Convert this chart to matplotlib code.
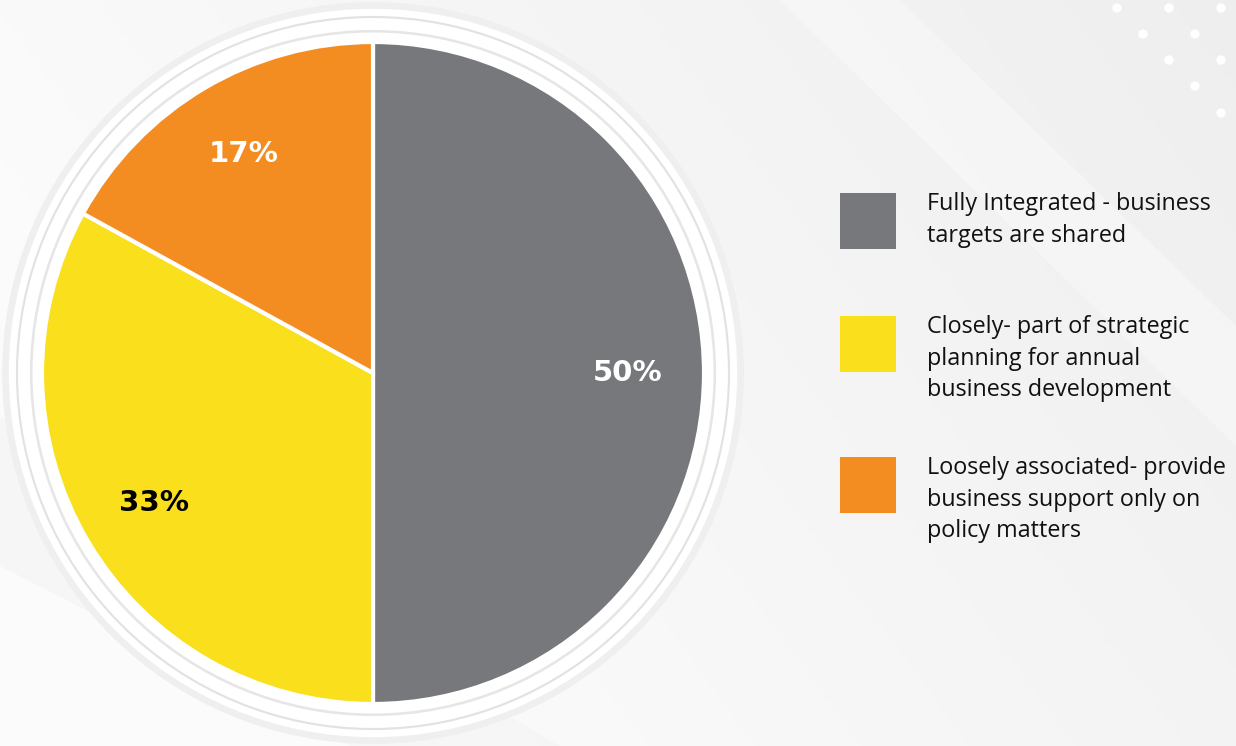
import numpy as np
import matplotlib.pyplot as plt
from matplotlib.patches import Circle, Rectangle, Polygon

categories = ['Fully Integrated - business\ntargets are shared',
              'Closely- part of strategic\nplanning for annual\nbusiness development',
              'Loosely associated- provide\nbusiness support only on\npolicy matters']
shares = [50, 33, 17]
colors = ['#77787c', '#f9df1c', '#f48d21']
label_colors = ['white', 'black', 'white']

W, H = 1236, 746
fig = plt.figure(figsize=(W / 100, H / 100), dpi=100)
ax = fig.add_axes([0, 0, 1, 1])

# soft grey background, lighter on the left
gx = np.linspace(0, 1, 300)
gy = np.linspace(0, 1, 200)
X, Y = np.meshgrid(gx, gy)
shade = 0.985 - 0.05 * np.clip(X * 0.9 + Y * 0.4 - 0.3, 0, 1)
ax.imshow(np.dstack([shade] * 3), extent=[0, W, 0, H], origin='lower',
          aspect='auto', zorder=0)
# faint diagonal bands
ax.add_patch(Polygon([[780, H], [900, H], [1236, 420], [1236, 300]],
                     closed=True, color='white', alpha=0.35, lw=0, zorder=0.5))
ax.add_patch(Polygon([[0, 330], [0, 180], [350, 0], [560, 0]],
                     closed=True, color='#f3f3f3', alpha=0.5, lw=0, zorder=0.5))

# dot pattern top right
for cx, cy in [(1117, 738), (1169, 738), (1221, 738), (1143, 712), (1195, 712),
               (1169, 686), (1221, 686), (1195, 660), (1221, 633)]:
    ax.add_patch(Circle((cx, cy), 4, color='white', zorder=1))

cx0, cy0, r = 373, 373, 331

# decorative rings around the pie
for rad, col, lw in [(366, '#efefef', 7), (360, '#ffffff', 6), (355, '#e2e2e2', 3),
                     (348, '#ffffff', 10), (341, '#e6e6e6', 3), (337, '#ffffff', 5)]:
    ax.add_patch(Circle((cx0, cy0), rad, fill=False, ec=col, lw=lw, zorder=2))
ax.add_patch(Circle((cx0, cy0), 336, color='white', zorder=2))

wedges, texts, autotexts = ax.pie(
    shares, colors=colors, startangle=90, counterclock=False,
    center=(cx0, cy0), radius=r, autopct=lambda p: f'{round(p)}%',
    pctdistance=0.77, wedgeprops=dict(edgecolor='white', linewidth=3),
    textprops=dict(fontsize=21, fontweight='bold', family='DejaVu Sans'),
    frame=True)
for w in wedges:
    w.set_zorder(3)
for t, c in zip(autotexts, label_colors):
    t.set_color(c)
    t.set_zorder(4)

# legend
lx, box = 840, 56
row_tops = [193, 316, 457]
for lab, col, top in zip(categories, colors, row_tops):
    ax.add_patch(Rectangle((lx, H - top - box), box, box, color=col, lw=0, zorder=3))
    ax.text(927, H - top + 1, lab, fontsize=16.8, family='Open Sans', color='#111111',
            va='top', ha='left', linespacing=1.42, zorder=4)

ax.set_xlim(0, W)
ax.set_ylim(0, H)
ax.set_aspect('auto')
ax.axis('off')

fig.savefig('out.png', dpi=100)
